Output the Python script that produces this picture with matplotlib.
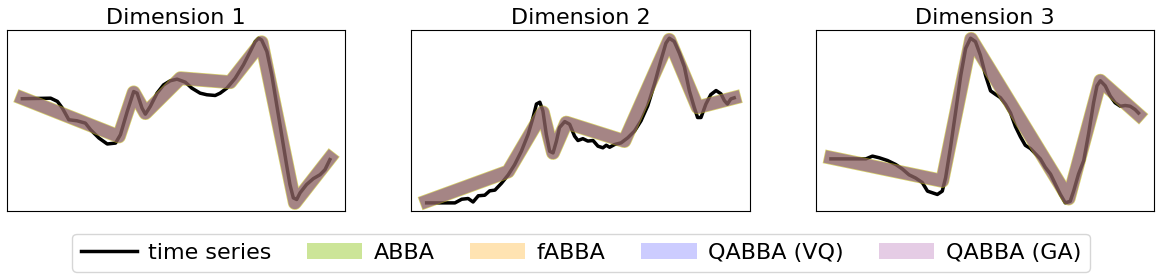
import matplotlib
matplotlib.use("Agg")
import matplotlib.pyplot as plt
from matplotlib.lines import Line2D
from matplotlib.patches import Patch

# time series (t in 0..100, value arbitrary units)
ts1_t = [0, 9.2, 11.4, 13.0, 15.1, 17.8, 20.5, 22.2, 24.9, 27.6, 30.3, 31.9, 34.1, 36.2, 37.3, 38.9,
         40.0, 41.6, 43.8, 45.9, 48.1, 50.3, 53.0, 55.1, 57.8, 60.0, 62.7, 64.3, 66.5, 69.2, 71.9,
         74.1, 75.7, 76.8, 77.8, 79.5, 81.1, 82.7, 84.3, 85.9, 87.0, 88.1, 89.2, 90.3, 92.4, 94.6,
         96.8, 98.4, 100]
ts1_v = [61.7, 62.0, 60.2, 56.5, 50.0, 49.4, 48.1, 44.4, 39.8, 36.5, 37.0, 41.7, 54.6, 65.7, 64.8, 56.5,
         53.1, 57.4, 64.8, 69.4, 71.7, 72.6, 70.9, 67.6, 64.8, 63.9, 63.5, 64.8, 67.6, 73.1, 80.6,
         88.0, 93.5, 95.4, 94.4, 88.0, 75.0, 58.3, 41.7, 25.0, 13.9, 6.5, 5.6, 9.3, 13.9, 17.2,
         19.4, 22.2, 27.8]

ts2_t = [0, 9.2, 11.4, 13.5, 15.1, 16.8, 18.9, 20.5, 22.2, 24.3, 26.5, 28.6, 30.8, 33.0, 34.6, 35.7,
         36.8, 37.8, 38.9, 40.0, 41.1, 42.2, 43.2, 44.9, 46.5, 48.1, 49.2, 50.8, 52.4, 54.1, 55.7,
         57.3, 58.4, 59.5, 61.1, 63.2, 65.4, 67.6, 69.7, 71.9, 74.1, 76.2, 77.8, 78.9, 80.5, 82.2,
         83.8, 85.4, 87.0, 88.1, 89.2, 90.8, 92.4, 94.1, 95.7, 96.8, 97.8, 98.9, 100]
ts2_v = [4.1, 4.1, 6.1, 6.5, 4.6, 8.0, 8.3, 10.7, 11.1, 14.8, 19.4, 25.0, 32.4, 41.7, 50.9, 58.3,
         59.3, 54.6, 41.7, 32.4, 31.5, 38.0, 45.4, 48.7, 47.2, 40.7, 38.3, 39.3, 38.0, 38.3, 35.2,
         34.3, 35.7, 34.6, 36.1, 37.0, 39.8, 43.5, 49.1, 57.4, 69.4, 82.4, 91.7, 94.4, 92.6, 86.1,
         78.7, 65.7, 56.5, 50.9, 50.9, 58.3, 63.5, 65.7, 63.9, 60.2, 58.3, 61.1, 61.7]

ts3_t = [0, 11.4, 13.5, 15.7, 18.4, 21.1, 23.2, 25.4, 27.6, 29.7, 31.4, 33.0, 34.6, 36.2, 37.3, 38.9,
         40.5, 42.2, 43.8, 45.4, 47.0, 48.6, 50.3, 51.9, 53.5, 55.1, 56.8, 58.4, 60.0, 61.6, 63.2,
         64.9, 66.5, 68.1, 69.7, 71.4, 73.0, 74.6, 76.2, 77.8, 78.9, 80.5, 82.2, 83.8, 85.4, 86.5,
         87.6, 89.2, 90.8, 92.4, 94.1, 95.7, 97.3, 98.9, 100]
ts3_v = [29.6, 29.6, 31.1, 30.2, 28.7, 26.5, 24.1, 20.9, 19.1, 16.7, 12.0, 11.1, 10.2, 12.0, 19.4, 36.1,
         54.6, 75.0, 89.8, 95.4, 93.5, 86.1, 75.0, 66.7, 64.8, 63.0, 59.3, 54.6, 47.2, 41.7, 37.0,
         35.2, 32.4, 29.6, 25.0, 21.3, 15.7, 10.2, 5.6, 6.5, 12.0, 21.3, 28.7, 43.5, 60.2, 69.4,
         72.2, 69.4, 63.9, 60.2, 58.3, 58.7, 58.3, 56.5, 54.6]

# piecewise linear reconstructions (breakpoints), same for all four methods visually
rec1_t = [0, 31.4, 36.2, 40.0, 51.4, 67.6, 77.8, 88.6, 100]
rec1_v = [62.0, 40.7, 65.2, 53.7, 73.1, 70.9, 93.1, 3.7, 28.7]
rec2_t = [0, 26.5, 37.8, 41.1, 45.4, 64.3, 78.9, 88.1, 100]
rec2_v = [5.0, 21.3, 53.7, 31.5, 48.1, 38.0, 93.5, 56.5, 61.7]
rec3_t = [0, 36.2, 45.6, 77.3, 87.6, 100]
rec3_v = [30.2, 17.6, 95.0, 8.0, 72.2, 53.7]

titles = ["Dimension 1", "Dimension 2", "Dimension 3"]
methods = ["ABBA", "fABBA", "QABBA (VQ)", "QABBA (GA)"]
colors = ["yellowgreen", "orange", "blue", "purple"]
alphas = [0.5, 0.3, 0.2, 0.2]
widths = [10, 10, 9, 9]

series = [(ts1_t, ts1_v, rec1_t, rec1_v),
          (ts2_t, ts2_v, rec2_t, rec2_v),
          (ts3_t, ts3_v, rec3_t, rec3_v)]

fig, axes = plt.subplots(1, 3, figsize=(11.62, 2.8), dpi=100)
fig.subplots_adjust(left=0.006, right=0.993, top=0.893, bottom=0.246, wspace=0.195)

for ax, title, (tt, tv, rt, rv) in zip(axes, titles, series):
    ax.plot(tt, tv, color="black", lw=2.5)
    for c, a, w in zip(colors, alphas, widths):
        ax.plot(rt, rv, color=c, alpha=a, lw=w)
    ax.set_title(title, fontsize=16, pad=4)
    ax.set_xticks([])
    ax.set_yticks([])

handles = [Line2D([0], [0], color="black", lw=2.5)]
for c, a in zip(colors, alphas):
    handles.append(Patch(facecolor=c, alpha=a, edgecolor="none"))
labels = ["time series"] + methods
fig.legend(handles, labels, loc="lower center", bbox_to_anchor=(0.5, -0.01), ncol=5,
           fontsize=16, handlelength=2.5, handletextpad=0.5, columnspacing=1.6, frameon=True)

fig.savefig("out.png", dpi=100)
